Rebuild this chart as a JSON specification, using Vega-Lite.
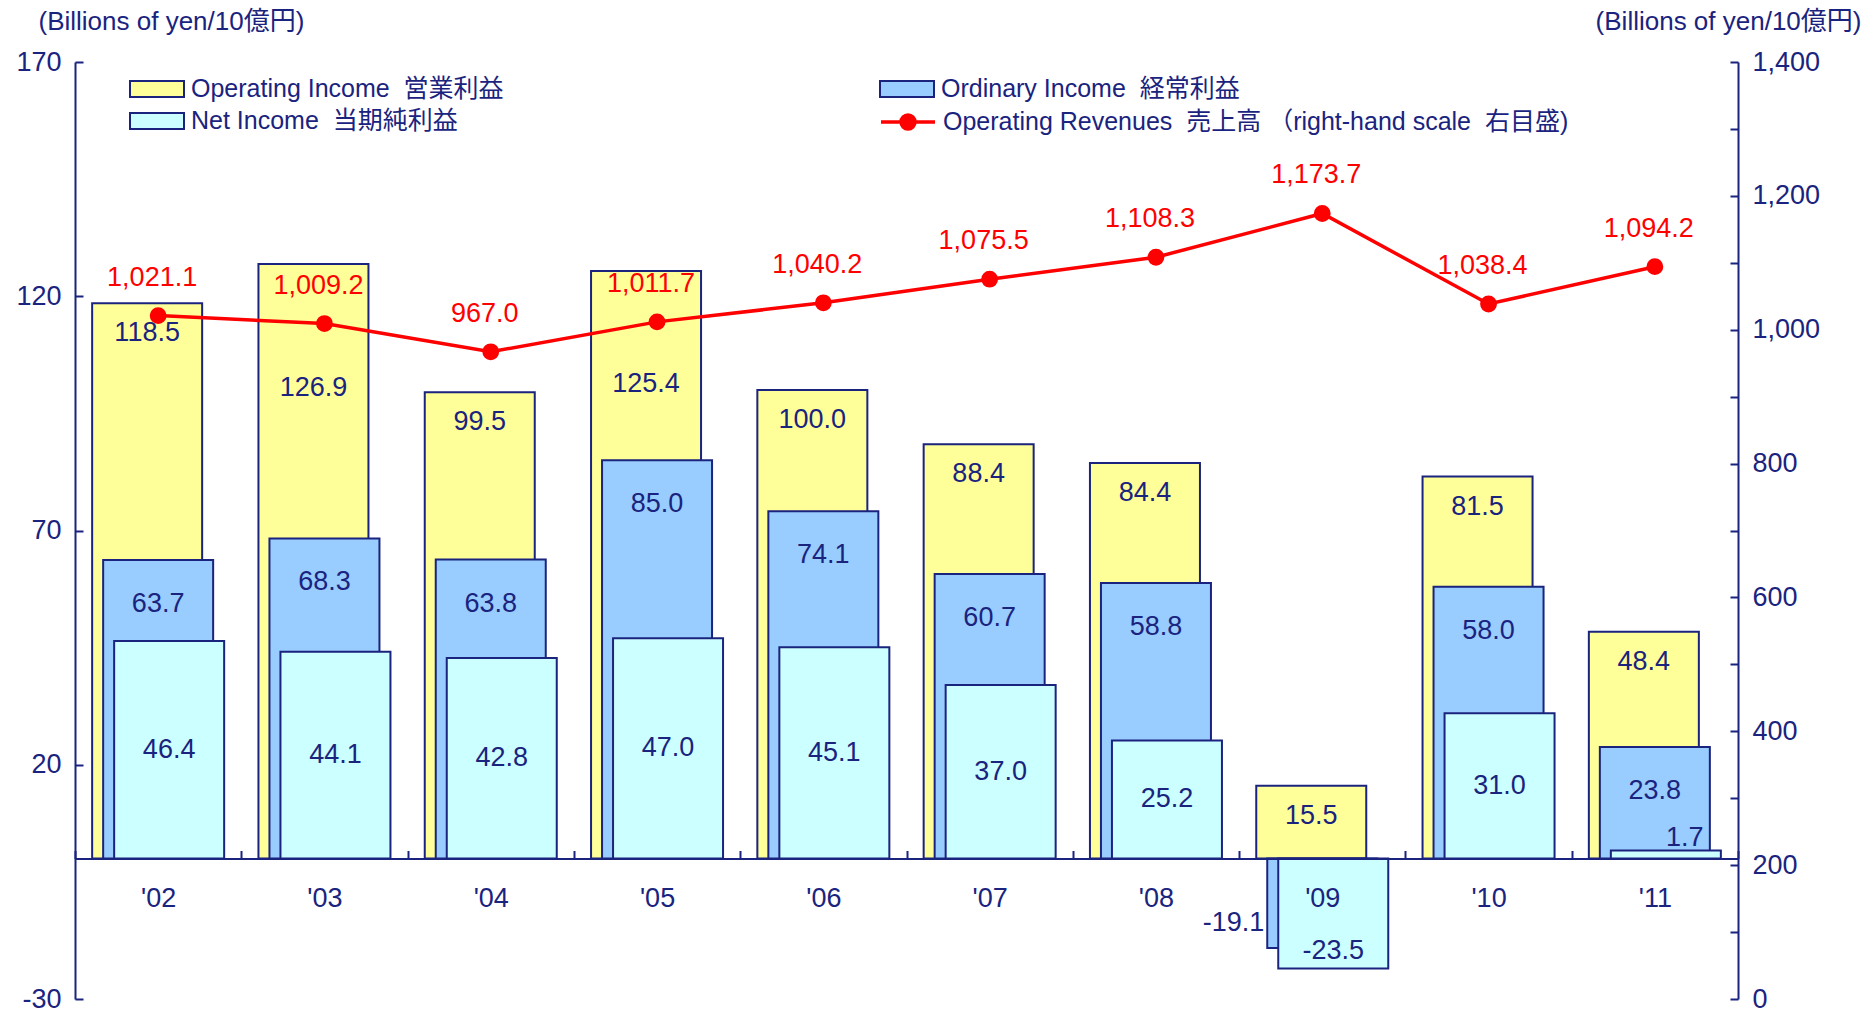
{
  "$schema": "https://vega.github.io/schema/vega-lite/v6.json",
  "width": 1663,
  "height": 937,
  "autosize": "none",
  "padding": {"left": 75, "top": 62, "right": 136, "bottom": 15},
  "background": "white",
  "config": {
    "view": {"stroke": null},
    "font": "Liberation Sans, Noto Sans CJK JP",
    "text": {"font": "Liberation Sans, Noto Sans CJK JP"},
    "locale": {"number": {"decimal": ".", "thousands": ",", "grouping": [3], "currency": ["", ""], "minus": "-"}}
  },
  "data": {
    "values": [
      {"year": "'02", "op": 118.5, "ord": 63.7, "net": 46.4, "rev": 1021.1},
      {"year": "'03", "op": 126.9, "ord": 68.3, "net": 44.1, "rev": 1009.2},
      {"year": "'04", "op": 99.5, "ord": 63.8, "net": 42.8, "rev": 967.0},
      {"year": "'05", "op": 125.4, "ord": 85.0, "net": 47.0, "rev": 1011.7},
      {"year": "'06", "op": 100.0, "ord": 74.1, "net": 45.1, "rev": 1040.2},
      {"year": "'07", "op": 88.4, "ord": 60.7, "net": 37.0, "rev": 1075.5},
      {"year": "'08", "op": 84.4, "ord": 58.8, "net": 25.2, "rev": 1108.3},
      {"year": "'09", "op": 15.5, "ord": -19.1, "net": -23.5, "rev": 1173.7},
      {"year": "'10", "op": 81.5, "ord": 58.0, "net": 31.0, "rev": 1038.4},
      {"year": "'11", "op": 48.4, "ord": 23.8, "net": 1.7, "rev": 1094.2}
    ]
  },
  "encoding": {
    "x": {
      "field": "year", "type": "ordinal", "sort": null,
      "scale": {"paddingInner": 0, "paddingOuter": 0},
      "axis": {
        "title": null, "offset": -140.5, "zindex": 1,
        "domainColor": "#1A237E", "domainWidth": 2,
        "tickColor": "#1A237E", "tickWidth": 2, "tickSize": -8, "tickBand": "extent",
        "labelFontSize": 27, "labelColor": "#1A237E", "labelPadding": 35, "labelAngle": 0
      }
    }
  },
  "layer": [
    {
      "mark": {"type": "bar", "width": 110, "xOffset": -11, "stroke": "#1A237E", "strokeWidth": 2},
      "encoding": {
        "y": {
          "field": "op", "type": "quantitative",
          "scale": {"domain": [-30, 170], "nice": false, "zero": false},
          "axis": {
            "values": [-30, 20, 70, 120, 170], "grid": false,
            "domainColor": "#1A237E", "domainWidth": 2,
            "tickColor": "#1A237E", "tickWidth": 2, "tickSize": -8,
            "labelFontSize": 27, "labelColor": "#1A237E", "labelPadding": 22,
            "title": "(Billions of yen/10億円)", "titleAngle": 0, "titleAlign": "left",
            "titleBaseline": "middle", "titleX": -37, "titleY": -41,
            "titleFontSize": 26, "titleFontWeight": "normal", "titleColor": "#1A237E"
          }
        },
        "fill": {
          "datum": "Operating Income\u00a0\u00a0営業利益",
          "scale": {
            "domain": ["Operating Income\u00a0\u00a0営業利益", "Net Income\u00a0\u00a0当期純利益", "Ordinary Income\u00a0\u00a0経常利益"],
            "range": ["#FFFF99", "#CCFFFF", "#99CCFF"]
          },
          "legend": {
            "title": null, "orient": "none", "legendX": 69, "legendY": 14,
            "columns": 2, "columnPadding": 372, "rowPadding": 6,
            "symbolSize": 576,
            "symbolType": "M-2.25,-0.667H2.25V0.667H-2.25Z",
            "symbolStrokeColor": "#1A237E", "symbolStrokeWidth": 2, "symbolOpacity": 1,
            "labelFontSize": 25, "labelColor": "#1A237E", "labelLimit": 800, "labelOffset": 21
          }
        }
      }
    },
    {
      "mark": {"type": "bar", "width": 110, "xOffset": 0, "stroke": "#1A237E", "strokeWidth": 2},
      "encoding": {
        "y": {"field": "ord", "type": "quantitative", "scale": {"domain": [-30, 170], "nice": false, "zero": false}, "axis": null},
        "fill": {"datum": "Ordinary Income\u00a0\u00a0経常利益"}
      }
    },
    {
      "mark": {"type": "bar", "width": 110, "xOffset": 11, "stroke": "#1A237E", "strokeWidth": 2},
      "encoding": {
        "y": {"field": "net", "type": "quantitative", "scale": {"domain": [-30, 170], "nice": false, "zero": false}, "axis": null},
        "fill": {"datum": "Net Income\u00a0\u00a0当期純利益"}
      }
    },
    {
      "mark": {"type": "line", "strokeWidth": 3.5, "point": {"filled": true, "size": 220, "color": "#FF0000"}},
      "encoding": {
        "y": {
          "field": "rev", "type": "quantitative",
          "scale": {"domain": [0, 1400], "nice": false, "zero": false},
          "axis": {
            "orient": "right", "values": [0, 100, 200, 300, 400, 500, 600, 700, 800, 900, 1000, 1100, 1200, 1300, 1400],
            "labelExpr": "datum.value % 200 === 0 ? format(datum.value, ',') : ''",
            "grid": false, "domainColor": "#1A237E", "domainWidth": 2,
            "tickColor": "#1A237E", "tickWidth": 2, "tickSize": -8,
            "labelFontSize": 27, "labelColor": "#1A237E", "labelPadding": 22,
            "title": "(Billions of yen/10億円)", "titleAngle": 0, "titleAlign": "right",
            "titleBaseline": "middle", "titleX": 123, "titleY": -41,
            "titleFontSize": 26, "titleFontWeight": "normal", "titleColor": "#1A237E"
          }
        },
        "stroke": {
          "datum": "Operating Revenues\u00a0\u00a0売上高 （right-hand scale\u00a0\u00a0右目盛)",
          "scale": {"domain": ["Operating Revenues\u00a0\u00a0売上高 （right-hand scale\u00a0\u00a0右目盛)"], "range": ["#FF0000"]},
          "legend": {
            "title": null, "orient": "none", "legendX": 819, "legendY": 46,
            "symbolSize": 576,
            "symbolType": "M-2.25,0H2.25M-0.58,0A0.58,0.58 0 1,0 0.58,0A0.58,0.58 0 1,0 -0.58,0Z",
            "symbolFillColor": "#FF0000", "symbolStrokeWidth": 3.5, "symbolOpacity": 1,
            "labelFontSize": 25, "labelColor": "#1A237E", "labelLimit": 800, "labelOffset": 21
          }
        }
      }
    },
    {
      "mark": {"type": "text", "fontSize": 27, "color": "#FF0000", "baseline": "middle", "dy": -38, "dx": -6},
      "encoding": {
        "y": {"field": "rev", "type": "quantitative", "scale": {"domain": [0, 1400], "nice": false, "zero": false}, "axis": null},
        "text": {"field": "rev", "type": "quantitative", "format": ",.1f"}
      }
    },
    {
      "transform": [{"filter": "datum.year !== \"'03\" && datum.year !== \"'05\""}],
      "mark": {"type": "text", "fontSize": 27, "color": "#1A237E", "baseline": "middle", "dy": 30, "dx": -11},
      "encoding": {
        "y": {"field": "op", "type": "quantitative", "scale": {"domain": [-30, 170], "nice": false, "zero": false}, "axis": null},
        "text": {"field": "op", "type": "quantitative", "format": ".1f"}
      }
    },
    {
      "transform": [{"filter": "datum.year === \"'03\""}],
      "mark": {"type": "text", "fontSize": 27, "color": "#1A237E", "baseline": "middle", "dy": 124, "dx": -11},
      "encoding": {
        "y": {"field": "op", "type": "quantitative", "scale": {"domain": [-30, 170], "nice": false, "zero": false}, "axis": null},
        "text": {"field": "op", "type": "quantitative", "format": ".1f"}
      }
    },
    {
      "transform": [{"filter": "datum.year === \"'05\""}],
      "mark": {"type": "text", "fontSize": 27, "color": "#1A237E", "baseline": "middle", "dy": 113, "dx": -11},
      "encoding": {
        "y": {"field": "op", "type": "quantitative", "scale": {"domain": [-30, 170], "nice": false, "zero": false}, "axis": null},
        "text": {"field": "op", "type": "quantitative", "format": ".1f"}
      }
    },
    {
      "transform": [{"filter": "datum.ord > 0"}],
      "mark": {"type": "text", "fontSize": 27, "color": "#1A237E", "baseline": "middle", "dy": 44, "dx": 0},
      "encoding": {
        "y": {"field": "ord", "type": "quantitative", "scale": {"domain": [-30, 170], "nice": false, "zero": false}, "axis": null},
        "text": {"field": "ord", "type": "quantitative", "format": ".1f"}
      }
    },
    {
      "transform": [{"filter": "datum.ord < 0"}],
      "mark": {"type": "text", "fontSize": 27, "color": "#1A237E", "baseline": "middle", "align": "right", "dy": -25, "dx": -58},
      "encoding": {
        "y": {"field": "ord", "type": "quantitative", "scale": {"domain": [-30, 170], "nice": false, "zero": false}, "axis": null},
        "text": {"field": "ord", "type": "quantitative", "format": ".1f"}
      }
    },
    {
      "transform": [{"filter": "datum.net > 5"}],
      "mark": {"type": "text", "fontSize": 27, "color": "#1A237E", "baseline": "middle", "dx": 11},
      "encoding": {
        "y": {"field": "net", "type": "quantitative", "scale": {"domain": [-60, 340], "nice": false, "zero": false}, "axis": null},
        "text": {"field": "net", "type": "quantitative", "format": ".1f"}
      }
    },
    {
      "transform": [{"filter": "datum.net < 0"}],
      "mark": {"type": "text", "fontSize": 27, "color": "#1A237E", "baseline": "middle", "dy": -18, "dx": 11},
      "encoding": {
        "y": {"field": "net", "type": "quantitative", "scale": {"domain": [-30, 170], "nice": false, "zero": false}, "axis": null},
        "text": {"field": "net", "type": "quantitative", "format": ".1f"}
      }
    },
    {
      "transform": [{"filter": "datum.net > 0 && datum.net < 5"}],
      "mark": {"type": "text", "fontSize": 27, "color": "#1A237E", "baseline": "middle", "dy": -12, "dx": 30},
      "encoding": {
        "y": {"field": "net", "type": "quantitative", "scale": {"domain": [-30, 170], "nice": false, "zero": false}, "axis": null},
        "text": {"field": "net", "type": "quantitative", "format": ".1f"}
      }
    }
  ],
  "resolve": {"scale": {"y": "independent"}}
}
